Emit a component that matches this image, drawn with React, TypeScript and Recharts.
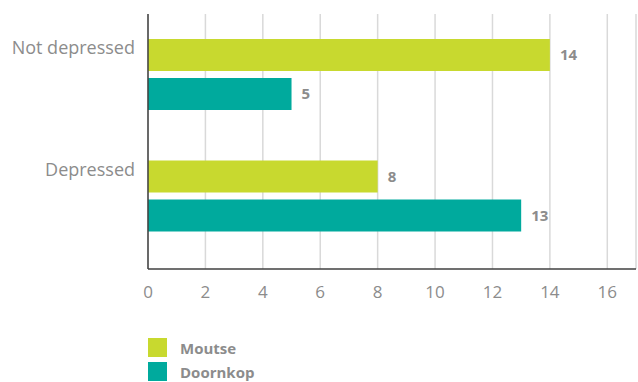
import React from "react";
import { BarChart, Bar, XAxis, YAxis, CartesianGrid, LabelList, Legend } from "recharts";

const categories = ["Not depressed", "Depressed"];
const seriesNames = ["Moutse", "Doornkop"];
const moutse = [14, 8];
const doornkop = [5, 13];
const xTicks = [0, 2, 4, 6, 8, 10, 12, 14, 16];

const data = categories.map((c, i) => ({ name: c, Moutse: moutse[i], Doornkop: doornkop[i] }));

const FONT = "'Open Sans', sans-serif";
const GRAY = "#8c8c8c";

const YTick = (props: any) => {
  const { x, y, payload } = props;
  return (
    <text x={x - 5} y={y - 27} dy="0.35em" textAnchor="end" fill={GRAY} fontSize={18} fontFamily={FONT}>
      {payload.value}
    </text>
  );
};

const LegendContent = (props: any) => {
  const { payload } = props;
  const items = seriesNames
    .map((n) => (payload || []).find((p: any) => p.value === n))
    .filter(Boolean);
  return (
    <div style={{ display: "flex", flexDirection: "column", gap: 5 }}>
      {items.map((p: any) => (
        <div key={p.value} style={{ display: "flex", alignItems: "center", height: 19 }}>
          <div style={{ width: 19, height: 19, background: p.color, marginRight: 13 }} />
          <span style={{ fontFamily: FONT, fontWeight: 700, fontSize: 15, color: GRAY }}>{p.value}</span>
        </div>
      ))}
    </div>
  );
};

export default function App() {
  return (
    <div style={{ position: "absolute", left: 0, top: 0, width: 638, height: 382, background: "#fff" }}>
      <BarChart
        width={638}
        height={382}
        data={data}
        layout="vertical"
        margin={{ top: 14, right: 2, bottom: 83, left: 0 }}
        barSize={32}
        barGap={7}
        barCategoryGap={25}
      >
        <CartesianGrid horizontal={false} stroke="#d9d9d9" strokeWidth={1.5} />
        <XAxis
          type="number"
          domain={[0, 17]}
          ticks={xTicks}
          tickLine={false}
          axisLine={{ stroke: "#404040", strokeWidth: 1.5 }}
          tick={{ fill: GRAY, fontSize: 17, fontFamily: FONT }}
          tickMargin={11}
          height={30}
        />
        <YAxis
          type="category"
          dataKey="name"
          width={148}
          tickLine={false}
          axisLine={{ stroke: "#404040", strokeWidth: 1.5 }}
          tick={<YTick />}
          padding={{ top: 0, bottom: 12 }}
        />
        <Legend
          layout="horizontal"
          align="center"
          verticalAlign="middle"
          content={<LegendContent />}
          wrapperStyle={{ position: "absolute", left: 148, top: 338, bottom: "auto", width: 200 }}
        />
        <Bar dataKey="Moutse" fill="#c8d92f" isAnimationActive={false}>
          <LabelList dataKey="Moutse" position="right" offset={10} fill={GRAY} fontSize={15} fontWeight={700} fontFamily={FONT} />
        </Bar>
        <Bar dataKey="Doornkop" fill="#00aa9d" isAnimationActive={false}>
          <LabelList dataKey="Doornkop" position="right" offset={10} fill={GRAY} fontSize={15} fontWeight={700} fontFamily={FONT} />
        </Bar>
      </BarChart>
    </div>
  );
}
